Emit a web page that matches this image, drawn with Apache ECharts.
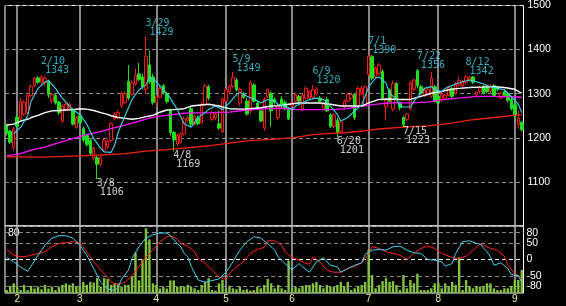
<!DOCTYPE html>
<html><head><meta charset="utf-8">
<script src="https://cdn.jsdelivr.net/npm/echarts@6/dist/echarts.min.js"></script>
<style>html,body{margin:0;padding:0;background:#000;}#c{width:566px;height:306px;}</style>
</head><body><div id="c"></div>
<script>
const days = ['1/27','1/28','1/31','2/1','2/2','2/3','2/4','2/7','2/8','2/9','2/10','2/14','2/15','2/16','2/17','2/18','2/21','2/22','2/24','2/25','2/28','3/1','3/2','3/3','3/4','3/7','3/8','3/9','3/10','3/11','3/14','3/15','3/16','3/17','3/18','3/22','3/23','3/24','3/25','3/28','3/29','3/30','3/31','4/1','4/4','4/5','4/6','4/7','4/8','4/11','4/12','4/13','4/14','4/15','4/18','4/19','4/20','4/21','4/22','4/25','4/26','4/27','4/28','5/2','5/6','5/9','5/10','5/11','5/12','5/13','5/16','5/17','5/18','5/19','5/20','5/23','5/24','5/25','5/26','5/27','5/30','5/31','6/1','6/2','6/3','6/6','6/7','6/8','6/9','6/10','6/13','6/14','6/15','6/16','6/17','6/20','6/21','6/22','6/23','6/24','6/27','6/28','6/29','6/30','7/1','7/4','7/5','7/6','7/7','7/8','7/11','7/12','7/13','7/14','7/15','7/19','7/20','7/21','7/22','7/25','7/26','7/27','7/28','7/29','8/1','8/2','8/3','8/4','8/5','8/8','8/9','8/10','8/12','8/15','8/16','8/17','8/18','8/19','8/22','8/23','8/24','8/25','8/26','8/29','8/30','8/31','9/1','9/2','9/5'];

// [open, high, low, close]
const ohlc = [
[1228,1232,1205,1210],[1215,1218,1186,1190],[1178,1225,1172,1220],
[1247,1252,1222,1226],[1243,1290,1240,1283],[1253,1285,1250,1281],[1257,1298,1254,1296],[1296,1320,1292,1316],[1318,1338,1315,1335],[1336,1340,1322,1326],[1326,1343,1320,1338],[1325,1340,1318,1335],[1327,1332,1290,1298],[1283,1302,1278,1298],[1296,1300,1275,1279],[1281,1284,1252,1257],[1238,1276,1234,1272],[1264,1280,1260,1276],[1266,1280,1262,1276],[1264,1268,1228,1231],[1224,1250,1220,1246],
[1250,1255,1230,1234],[1221,1226,1190,1195],[1205,1210,1180,1185],[1194,1198,1160,1165],[1154,1180,1148,1176],[1155,1160,1106,1140],[1140,1158,1135,1155],[1172,1198,1168,1194],[1180,1196,1175,1192],[1194,1236,1190,1232],[1243,1258,1240,1254],[1246,1262,1242,1257],[1272,1305,1268,1300],[1280,1305,1276,1300],[1328,1365,1285,1290],[1298,1330,1295,1325],[1322,1357,1318,1342],[1345,1370,1328,1332],[1338,1345,1310,1316],[1310,1429,1300,1385],[1365,1398,1322,1327],[1338,1345,1275,1280],
[1280,1298,1270,1294],[1292,1318,1290,1312],[1318,1322,1298,1302],[1300,1304,1278,1282],[1262,1266,1205,1212],[1212,1216,1169,1195],[1186,1210,1180,1205],[1190,1212,1187,1209],[1209,1248,1205,1243],[1240,1250,1235,1246],[1266,1270,1226,1231],[1231,1252,1228,1249],[1245,1250,1228,1232],[1235,1280,1232,1276],[1276,1322,1272,1318],[1316,1320,1285,1290],[1242,1262,1238,1257],[1245,1260,1240,1253],[1232,1262,1218,1222],[1214,1292,1210,1288],
[1283,1313,1280,1309],[1305,1320,1300,1316],[1316,1349,1312,1337],[1331,1336,1305,1309],[1279,1314,1272,1310],[1298,1304,1288,1292],[1283,1290,1250,1254],[1261,1330,1255,1325],[1320,1324,1280,1283],[1279,1284,1265,1268],[1261,1265,1235,1238],[1222,1292,1215,1287],[1294,1312,1290,1309],[1301,1305,1225,1261],[1287,1292,1275,1281],[1246,1278,1240,1272],[1288,1294,1268,1272],[1280,1286,1262,1266],[1265,1270,1240,1243],
[1272,1282,1268,1279],[1283,1302,1280,1298],[1294,1298,1280,1283],[1265,1300,1260,1296],[1290,1316,1286,1312],[1290,1308,1286,1305],[1292,1320,1288,1309],[1300,1315,1296,1310],[1290,1295,1280,1283],[1268,1282,1264,1279],[1287,1292,1258,1261],[1252,1256,1222,1226],[1226,1256,1222,1252],[1240,1246,1201,1212],[1215,1238,1210,1235],[1270,1288,1265,1283],[1283,1302,1280,1298],[1290,1300,1286,1298],[1298,1302,1240,1246],[1272,1316,1268,1312],[1300,1318,1296,1312],[1275,1319,1270,1316],
[1344,1390,1340,1385],[1384,1388,1330,1335],[1338,1362,1334,1358],[1346,1370,1342,1365],[1350,1355,1285,1290],[1270,1290,1240,1286],[1309,1312,1280,1283],[1265,1330,1260,1323],[1323,1326,1285,1288],[1279,1282,1262,1268],[1246,1250,1223,1230],[1242,1256,1238,1254],[1266,1328,1262,1325],[1310,1334,1306,1331],[1352,1356,1312,1318],[1316,1320,1298,1301],[1296,1312,1292,1308],[1300,1315,1295,1310],[1294,1350,1290,1335],[1316,1320,1280,1283],
[1294,1298,1276,1279],[1287,1305,1282,1301],[1290,1300,1285,1296],[1296,1318,1294,1314],[1312,1316,1290,1294],[1300,1326,1298,1320],[1320,1338,1316,1330],[1318,1332,1312,1326],[1326,1342,1322,1338],[1330,1340,1326,1336],[1338,1340,1322,1326],[1298,1305,1290,1303],[1305,1318,1300,1314],[1316,1320,1298,1303],[1314,1320,1300,1305],[1305,1322,1300,1318],[1318,1322,1292,1296],[1314,1318,1305,1310],[1290,1305,1288,1301],[1305,1310,1292,1296],[1300,1305,1280,1285],[1287,1292,1262,1266],
[1275,1280,1240,1250],[1230,1262,1220,1245],[1235,1238,1215,1218]
];

const volume = [4,9.5,13,8.6,4,11,4,9.5,6,8.6,5,11,6,8.6,4,8.6,11,13,11,13,9,9,15,11,15,14,20,8.6,20,19,11,13,13,8.6,11,11,22,54,17,45,87,72,13,11,6,8.6,6,17,17,8.6,9,8.6,11,
8.6,6.3,4,10.8,15,20,4,3.2,13,17.6,6.3,9.5,6.3,5,8.6,4,5,3.2,4,8.6,6.3,10.8,19,13,6.3,10.8,6.3,4,43.7,
6.3,8.6,6.3,9.5,10.8,10.8,13,15,10.8,6.3,10.8,8.6,8.6,10.8,15,8.6,15,4,6.3,9.5,10.8,15,
58,24,6.3,10.8,16,20,15,16,10.8,4,24,6.3,17.6,13,26,
4,4,4,6.3,13,14,6.3,13,8.6,15,10.8,48,4,17.6,9.5,6.3,8.6,8.6,9.5,13,13,6.3,4,4,6.3,6.3,9.5,17.6,17.6,31];

// moving averages: [trading-day index, value]
const maShort = [[2,1209],[4,1224],[6,1250],[7,1283],[9,1312],[11,1327],[12,1330],[14,1312],[16,1290],[18,1272],[19,1264],[21,1253],[23,1231],[25,1198],[27,1176],[28,1168],[30,1167],[31,1183],[32,1212],[34,1250],[36,1287],[38,1309],[40,1320],[41,1337],[43,1327],[45,1309],[47,1290],[49,1264],[51,1232],[53,1224],[54,1235],[55,1246],[57,1257],[58,1264],[60,1272],[62,1264],[64,1279],[66,1298],[67,1303],[69,1294],[71,1288],[73,1279],[75,1287],[77,1283],[78,1276],[80,1272],[82,1264],[83,1272],[85,1279],[87,1287],[89,1290],[91,1287],[93,1272],[95,1253],[96,1238],[98,1246],[100,1261],[102,1275],[103,1294],[104,1316],[106,1335],[107,1338],[109,1324],[110,1301],[112,1287],[113,1273],[114,1270],[116,1270],[117,1283],[119,1301],[120,1312],[122,1316],[123,1309],[125,1305],[126,1312],[127,1316],[129,1322],[131,1327],[133,1331],[135,1327],[137,1322],[139,1316],[141,1312],[143,1309],[145,1294],[147,1276],[148,1257]];
const maMid = [[0,1229],[2,1231],[4,1238],[6,1242],[7,1246],[9,1251],[11,1257],[13,1261],[15,1262],[17,1263],[19,1264],[21,1266],[23,1265],[25,1262],[27,1257],[29,1253],[30,1250],[32,1246],[34,1244],[36,1242],[38,1244],[40,1248],[42,1251],[44,1258],[46,1263],[48,1264],[51,1266],[53,1272],[58,1276],[61,1272],[64,1266],[68,1265],[73,1268],[76,1272],[79,1273],[81,1276],[84,1279],[90,1279],[93,1276],[96,1272],[102,1272],[104,1279],[107,1287],[110,1288],[113,1287],[116,1287],[119,1294],[122,1301],[125,1305],[127,1309],[130,1312],[133,1314],[136,1315],[140,1316],[143,1314],[146,1310],[148,1301]];
const maLong = [[0,1159],[4,1164],[7,1172],[11,1179],[15,1189],[19,1198],[23,1207],[27,1214],[30,1221],[34,1229],[38,1238],[42,1247],[46,1251],[51,1256],[59,1257],[64,1258],[69,1263],[75,1266],[79,1267],[83,1264],[88,1264],[93,1264],[98,1266],[102,1272],[107,1277],[111,1279],[116,1279],[121,1281],[126,1287],[130,1290],[135,1294],[140,1294],[145,1293],[148,1292]];
const maVeryLong = [[0,1157],[10,1156],[17,1158],[27,1161],[34,1164],[40,1170],[46,1173],[53,1178],[59,1183],[69,1193],[79,1198],[83,1201],[88,1207],[93,1210],[98,1212],[103,1216],[107,1220],[114,1224],[121,1227],[127,1232],[133,1240],[140,1246],[147,1252],[148,1253]];

// oscillators (lower panel)
const oscShort = [[0,6],[2,-7],[4,-22],[6,-35],[7,-20],[9,13],[11,43],[13,64],[15,71],[17,71],[19,64],[21,43],[23,13],[25,-27],[27,-68],[29,-88],[31,-93],[32,-83],[33,-58],[35,-32],[36,3],[38,38],[40,64],[42,74],[44,79],[46,79],[47,71],[49,48],[50,38],[51,18],[52,8],[53,-20],[55,-61],[57,-68],[59,-63],[61,-58],[63,-38],[65,-7],[67,28],[69,53],[71,68],[73,64],[75,48],[77,28],[78,8],[80,-12],[82,-30],[84,-12],[85,-22],[87,-38],[89,-7],[91,5],[93,-17],[95,-22],[96,-38],[98,-27],[100,-17],[102,-10],[103,15],[105,28],[107,30],[109,28],[111,38],[113,40],[115,28],[117,20],[119,18],[121,0],[123,-2],[125,-7],[126,-20],[128,-12],[129,18],[131,53],[133,56],[135,48],[136,46],[138,23],[139,8],[140,-17],[142,-10],[144,-27],[145,-45],[147,-48],[148,-68]];
const oscLong = [[0,30],[2,13],[4,8],[6,10],[7,13],[9,18],[11,23],[13,38],[15,48],[17,50],[19,53],[21,50],[23,23],[25,-7],[27,-32],[29,-53],[30,-68],[32,-75],[34,-68],[36,-48],[38,-22],[40,8],[42,28],[44,53],[46,68],[47,71],[49,61],[50,48],[52,40],[54,23],[55,3],[57,-12],[59,-32],[61,-53],[63,-58],[64,-42],[66,-22],[68,-7],[70,18],[72,30],[74,36],[75,56],[77,56],[79,43],[80,23],[82,6],[84,-2],[86,-12],[87,-14],[88,8],[90,-7],[92,-32],[94,-38],[96,-38],[98,-27],[100,-20],[102,-10],[104,18],[105,38],[107,33],[109,23],[111,18],[113,13],[115,0],[117,18],[119,33],[121,40],[123,33],[125,18],[127,10],[128,6],[130,3],[132,10],[134,28],[136,46],[137,43],[139,33],[141,28],[143,10],[144,-17],[146,-42],[147,-48],[148,-58]];

const peakDates = ['2/10','3/29','5/9','6/9','7/1','7/22','8/12'];
const peakValues = [1343,1429,1349,1320,1390,1356,1342];
const lowDates = ['3/8','4/8','6/20','7/15'];
const lowValues = [1106,1169,1201,1223];
const monthStarts = ['2/1','3/1','4/1','5/2','6/1','7/1','8/1','9/1'];
const monthLabels = ['2','3','4','5','6','7','8','9'];
const priceTicks = [1100,1200,1300,1400,1500];
const oscTicks = [80,50,0,-50,-80];
const volTicks = [80];

const CYAN = '#40d4ec';
const toCat = arr => arr.map(([i, v]) => [days[i], v]);
const chart = echarts.init(document.getElementById('c'), null, {renderer: 'canvas'});

const G = {left: 5, width: 518.5};
const labelFont = {fontFamily: 'Liberation Sans', fontSize: 10.5, color: '#fff'};
const annFont = {fontFamily: 'DejaVu Sans Mono', fontSize: 10, lineHeight: 9};

chart.setOption({
  animation: false,
  backgroundColor: '#000',
  grid: [
    {left: G.left, width: G.width, top: 2, height: 224, show: true, borderColor: '#fff', borderWidth: 1, backgroundColor: 'transparent'},
    {left: G.left, width: G.width, top: 226, height: 67, show: true, borderColor: '#fff', borderWidth: 1, backgroundColor: 'transparent'}
  ],
  xAxis: [
    {type: 'category', gridIndex: 0, data: days, boundaryGap: true, axisLine: {show: false}, axisTick: {show: false}, axisLabel: {show: false}, splitLine: {show: false}},
    {type: 'category', gridIndex: 1, data: days, boundaryGap: true, axisLine: {show: false}, axisTick: {show: false}, splitLine: {show: false},
     axisLabel: {show: true, interval: (i, v) => monthStarts.includes(v), formatter: v => monthLabels[monthStarts.indexOf(v)] || '',
       color: '#f4eea0', fontFamily: 'Liberation Sans', fontSize: 10, margin: 1}}
  ],
  yAxis: [
    {type: 'value', gridIndex: 0, position: 'right', min: 1000, max: 1500, interval: 100,
     axisLine: {show: false}, axisTick: {show: false},
     axisLabel: Object.assign({margin: 4, padding: [5, 0, 0, 0], formatter: v => priceTicks.includes(v) ? String(v) : ''}, labelFont),
     splitLine: {show: true, lineStyle: {color: '#8a8a8a', width: 1, type: [4, 3]}}},
    {type: 'value', gridIndex: 1, position: 'right', min: -100, max: 100, interval: 10,
     axisLine: {show: false}, axisTick: {show: false}, splitLine: {show: false},
     axisLabel: Object.assign({margin: 3, formatter: v => oscTicks.includes(v) ? String(v) : ''}, labelFont)},
    {type: 'value', gridIndex: 1, position: 'left', min: 0, max: 90, interval: 80,
     axisLine: {show: false}, axisTick: {show: false}, splitLine: {show: false},
     axisLabel: Object.assign({inside: true, margin: 3, formatter: v => volTicks.includes(v) ? String(v) : ''}, labelFont)}
  ],
  series: [
    {type: 'line', xAxisIndex: 0, yAxisIndex: 0, data: days.map(() => null), z: 1, silent: true, symbol: 'none',
     markLine: {silent: true, symbol: 'none', label: {show: false}, animation: false, z: 1,
       lineStyle: {color: '#b4b4b4', width: 1.5, type: 'solid'}, data: monthStarts.map(d => ({xAxis: d}))}},
    {type: 'line', xAxisIndex: 1, yAxisIndex: 1, data: days.map(() => null), z: 1, silent: true, symbol: 'none',
     markLine: {silent: true, symbol: 'none', label: {show: false}, animation: false, z: 1,
       data: monthStarts.map(d => ({xAxis: d, lineStyle: {color: '#b4b4b4', width: 1.5, type: 'solid'}}))
         .concat(oscTicks.map(v => ({yAxis: v, lineStyle: {color: v === 0 ? '#ffffff' : '#8a8a8a', width: 1, type: [4, 3]}})))}},
    {type: 'candlestick', xAxisIndex: 0, yAxisIndex: 0, z: 3, barWidth: 3,
     data: ohlc.map(([o, h, l, c]) => [o, c, l, h]),
     itemStyle: {color: '#000', color0: '#1ee01e', borderColor: '#ff1a1a', borderColor0: '#1ee01e', borderWidth: 1}},
    {type: 'line', xAxisIndex: 0, yAxisIndex: 0, z: 4, symbol: 'none', data: toCat(maVeryLong), lineStyle: {color: '#f02010', width: 1.3}},
    {type: 'line', xAxisIndex: 0, yAxisIndex: 0, z: 4, symbol: 'none', data: toCat(maLong), lineStyle: {color: '#ff10ff', width: 1.3}},
    {type: 'line', xAxisIndex: 0, yAxisIndex: 0, z: 4, symbol: 'none', data: toCat(maMid), lineStyle: {color: '#ffffff', width: 1.4}},
    {type: 'line', xAxisIndex: 0, yAxisIndex: 0, z: 4, symbol: 'none', data: toCat(maShort), lineStyle: {color: CYAN, width: 1.1}},
    {type: 'scatter', xAxisIndex: 0, yAxisIndex: 0, z: 5, symbolSize: 1, itemStyle: {color: 'transparent'},
     data: peakDates.map((d, i) => [d, peakValues[i]]),
     label: {show: true, position: [0, 1], align: 'left', verticalAlign: 'bottom',
       formatter: p => `{d|${p.value[0]}}\n{v|${p.value[1]}}`,
       rich: {d: Object.assign({color: CYAN}, annFont), v: Object.assign({color: CYAN, padding: [0, 0, 0, 4]}, annFont)}}},
    {type: 'scatter', xAxisIndex: 0, yAxisIndex: 0, z: 5, symbolSize: 1, itemStyle: {color: 'transparent'},
     data: lowDates.map((d, i) => [d, lowValues[i]]),
     label: {show: true, position: [0, 0], align: 'left', verticalAlign: 'top',
       formatter: p => `{d|${p.value[0]}}\n{v|${p.value[1]}}`,
       rich: {d: Object.assign({color: '#fff'}, annFont), v: Object.assign({color: '#fff', padding: [0, 0, 0, 3]}, annFont)}}},
    {type: 'bar', xAxisIndex: 1, yAxisIndex: 2, z: 2, barWidth: 2.4, data: volume, itemStyle: {color: '#82c240'}},
    {type: 'line', xAxisIndex: 1, yAxisIndex: 1, z: 4, symbol: 'none', data: toCat(oscLong), lineStyle: {color: '#ff2020', width: 1}},
    {type: 'line', xAxisIndex: 1, yAxisIndex: 1, z: 4, symbol: 'none', data: toCat(oscShort), lineStyle: {color: CYAN, width: 1}}
  ]
});
</script></body></html>
